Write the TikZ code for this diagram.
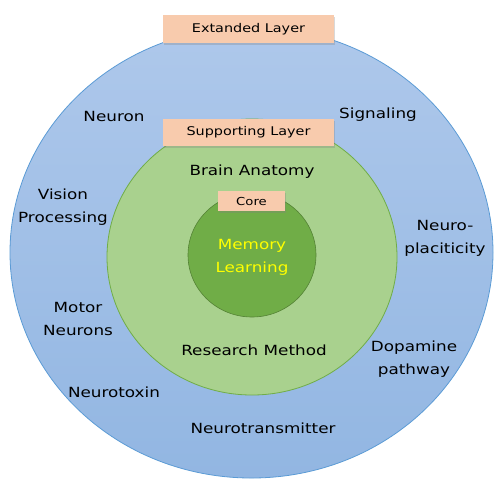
\documentclass[tikz,border=0pt]{standalone}
\usepackage{fontspec}
\setmainfont[FakeStretch=1.2]{DejaVu Sans}
\usetikzlibrary{shapes.geometric,shadows}
\definecolor{outerline}{RGB}{91,155,213}
\definecolor{outertop}{RGB}{174,200,235}
\definecolor{outerbot}{RGB}{146,182,226}
\definecolor{midfill}{RGB}{169,209,142}
\definecolor{midline}{RGB}{112,173,71}
\definecolor{corefill}{RGB}{112,173,71}
\definecolor{coreline}{RGB}{84,130,53}
\definecolor{boxfill}{RGB}{248,203,173}
\tikzset{
  lbl/.style={font=\fontsize{14}{23}\selectfont, align=center, text=black, inner sep=0pt},
  layerbox/.style={fill=boxfill, draw=none, inner sep=0pt, font=\fontsize{12}{14}\selectfont,
    drop shadow={opacity=0.3, shadow xshift=0.8pt, shadow yshift=-2pt}},
}
\begin{document}
\begin{tikzpicture}[x=1pt,y=-1pt]
\useasboundingbox (0,0) rectangle (502,491);
\node[ellipse, draw=outerline, line width=0.8pt, top color=outertop, bottom color=outerbot,
  minimum width=483pt, minimum height=451pt, inner sep=0pt] (outer) at (251.5,252.5) {};
\node[ellipse, draw=midline, line width=0.8pt, fill=midfill,
  minimum width=290pt, minimum height=276pt, inner sep=0pt] (mid) at (252,257) {};
\node[ellipse, draw=coreline, line width=0.6pt, fill=corefill,
  minimum width=128pt, minimum height=124pt, inner sep=0pt] (core) at (252,255) {};

\node[layerbox, minimum width=171pt, minimum height=28pt] (ext) at (248.5,29) {Extanded Layer};
\node[layerbox, minimum width=171pt, minimum height=27pt] (sup) at (248.5,132.5) {Supporting Layer};
\node[layerbox, minimum width=67pt, minimum height=20pt, font=\fontsize{11}{13}\selectfont] (corebox) at (251.5,201) {Core};

\node[lbl, text={rgb,255:red,255;green,255;blue,0}] (mem) at (252,257) {Memory\\Learning};
\node[lbl] (brain) at (252,172) {Brain Anatomy};
\node[lbl] (research) at (254,350) {Research Method};

\node[lbl] (neuron) at (114,116) {Neuron};
\node[lbl] (signal) at (378,115) {Signaling};
\node[lbl] (vision) at (63,207) {Vision\\Processing};
\node[lbl] (plast) at (445,238) {Neuro-\\placiticity};
\node[lbl] (motor) at (78,319) {Motor\\Neurons};
\node[lbl] (dopa) at (414,359) {Dopamine\\pathway};
\node[lbl] (toxin) at (114,392) {Neurotoxin};
\node[lbl] (trans) at (263,428) {Neurotransmitter};
\end{tikzpicture}
\end{document}
